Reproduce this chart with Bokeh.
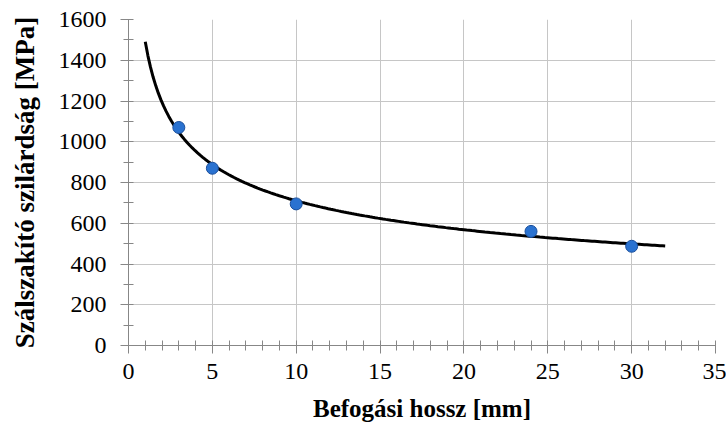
import numpy as np
from bokeh.plotting import figure
from bokeh.models import SingleIntervalTicker, Range1d
from bokeh.embed import file_html
from bokeh.resources import INLINE

# Data
length_mm = [3, 5, 10, 24, 30]
strength_mpa = [1070, 870, 695, 560, 487]
trend_x_range = [1, 32]  # extent of the power-law trendline

x_label = "Befogási hossz [mm]"
y_label = "Szálszakító szilárdság [MPa]"

# Power-law trendline fitted to the data (as in the spreadsheet chart)
b, ln_a = np.polyfit(np.log(length_mm), np.log(strength_mpa), 1)
tx = np.linspace(trend_x_range[0], trend_x_range[1], 200)
ty = np.exp(ln_a) * tx ** b

SERIF = "Liberation Serif"

p = figure(frame_width=587, frame_height=326,
           x_range=Range1d(0, 35), y_range=Range1d(0, 1600),
           output_backend="svg", toolbar_location=None,
           min_border_left=128, min_border_top=19, min_border_right=11, min_border_bottom=70)
p.outline_line_color = None
p.background_fill_color = "white"
p.border_fill_color = "white"

p.xaxis.ticker = SingleIntervalTicker(interval=5, num_minor_ticks=5)
p.yaxis.ticker = SingleIntervalTicker(interval=200, num_minor_ticks=2)
p.xgrid.ticker = p.xaxis.ticker
p.ygrid.ticker = p.yaxis.ticker

for g in (p.xgrid, p.ygrid):
    g.grid_line_color = "#c6c6c6"
    g.grid_line_width = 1

for ax in (p.xaxis[0], p.yaxis[0]):
    ax.axis_line_color = "#878787"
    ax.major_tick_line_color = "#878787"
    ax.minor_tick_line_color = "#878787"
    ax.major_tick_in = 0
    ax.major_tick_out = 8
    ax.minor_tick_in = 5
    ax.minor_tick_out = 5
    ax.major_label_text_font = SERIF
    ax.major_label_text_font_size = "24px"
    ax.major_label_text_color = "black"
    ax.axis_label_text_font = SERIF
    ax.axis_label_text_font_style = "bold"
    ax.axis_label_text_color = "black"

p.xaxis.axis_label = x_label
p.yaxis.axis_label = y_label
p.xaxis.axis_label_text_font_size = "25px"
p.yaxis.axis_label_text_font_size = "27px"
p.xaxis.major_label_standoff = 10
p.yaxis.major_label_standoff = 14
p.xaxis.axis_label_standoff = 13
p.yaxis.axis_label_standoff = 16

p.line(tx, ty, line_color="black", line_width=3)
p.scatter(length_mm, strength_mpa, size=12, fill_color="#2a72d0",
          line_color="#1a4f9c", line_width=1)

open("out.html", "w").write(file_html(p, INLINE))
